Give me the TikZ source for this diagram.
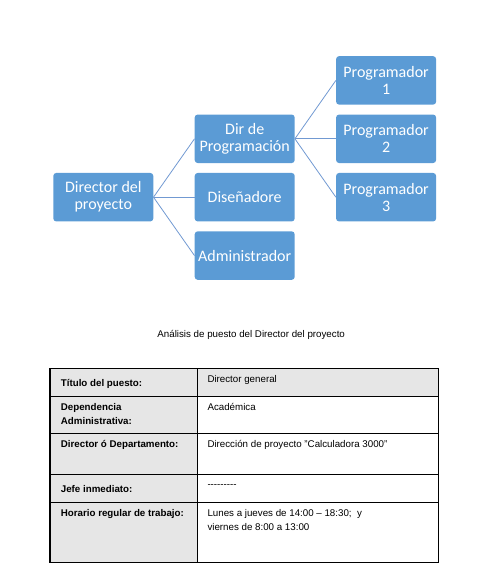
\documentclass[tikz,border=0pt]{standalone}
\usepackage{fontspec}
\setmainfont{Liberation Sans}
\newfontfamily\boxfont{Carlito}
\usetikzlibrary{positioning}

\definecolor{orgblue}{HTML}{5B9BD5}
\definecolor{linkblue}{HTML}{7199D2}
\definecolor{cellgray}{HTML}{E6E6E6}

\begin{document}
\begin{tikzpicture}[
  x=1pt, y=1pt,
  node distance=9.5pt and 41pt,
  box/.style={
    fill=orgblue,
    rounded corners=3pt,
    minimum width=100pt,
    minimum height=48.5pt,
    inner sep=1pt,
    align=center,
    text=white,
    font={\boxfont\fontsize{16}{17}\selectfont}
  },
  link/.style={draw=linkblue, line width=0.8pt},
  rule/.style={draw=black, line width=1.2pt},
  cell/.style={anchor=base west, inner sep=0pt, align=left,
    font={\fontsize{9.75}{13.7}\selectfont}},
  head/.style={cell, font={\bfseries\fontsize{9.75}{13.7}\selectfont}}
]
\useasboundingbox (0,0) rectangle (487,565);

% organigrama
\node[box] (dir) at (103.3,367.8) {Director del\\proyecto};
\node[box, right=of dir] (dis) {Diseñadore};
\node[box, above=of dis] (prog) {Dir de\\Programación};
\node[box, below=of dis] (adm) {Administrador};
\node[box, right=of prog] (p2) {Programador\\2};
\node[box, above=of p2] (p1) {Programador\\1};
\node[box, below=of p2] (p3) {Programador\\3};

\draw[link] (dir.east) -- (prog.west);
\draw[link] (dir.east) -- (dis.west);
\draw[link] (dir.east) -- (adm.west);
\draw[link] (prog.east) -- (p1.west);
\draw[link] (prog.east) -- (p2.west);
\draw[link] (prog.east) -- (p3.west);

\node[anchor=base, font={\fontsize{9.75}{12}\selectfont}] (caption) at (251.2,227.7)
  {Análisis de puesto del Director del proyecto};

% tabla (las celdas de varias lineas se anclan en su ultima linea)
\fill[cellgray] (50,2.7) rectangle (197.3,196.7);
\fill[cellgray] (197.3,168.7) rectangle (438.7,196.7);
\draw[rule] (50,2.7) rectangle (438.7,196.7);
\draw[rule] (197.3,2.7) -- (197.3,196.7);
\foreach \y in {168.7,131.7,90.7,62.7}
  \draw[rule] (50,\y) -- (438.7,\y);

\node[head] (t1) at (60.7,178.3) {Título del puesto:};
\node[cell] (v1) at (207.3,182.3) {Director general};
\node[head] (t2) at (60.7,140.7) {Dependencia\\Administrativa:};
\node[cell] (v2) at (207.3,154.3) {Académica};
\node[head] (t3) at (60.7,117.3) {Director ó Departamento:};
\node[cell] (v3) at (207.3,117.3) {Dirección de proyecto "Calculadora 3000"};
\node[head] (t4) at (60.7,72.3) {Jefe inmediato:};
\node[cell] (v4) at (207.3,77) {{-}{-}{-}{-}{-}{-}{-}{-}{-}};
\node[head] (t5) at (60.7,48.3) {Horario regular de trabajo:};
\node[cell] (v5) at (207.3,34.3) {Lunes a jueves de 14:00 – 18:30;\ \ y\\viernes de 8:00 a 13:00};
\end{tikzpicture}
\end{document}
